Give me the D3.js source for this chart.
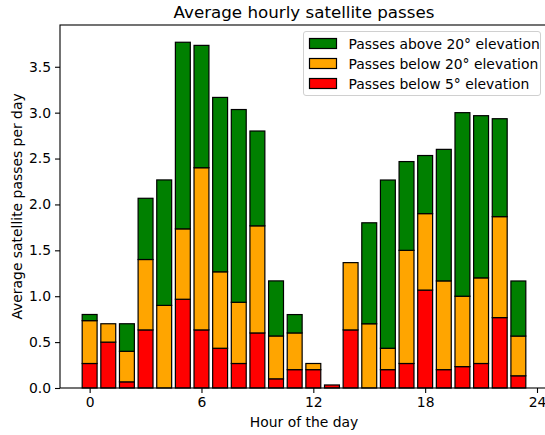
<!DOCTYPE html>
<html>
<head>
<meta charset="utf-8">
<script src="https://cdn.jsdelivr.net/npm/d3@7"></script>
<style>
  body { margin: 0; background: #fff; }
  svg { font-family: "DejaVu Sans", sans-serif; }
</style>
</head>
<body>
<svg width="545" height="435"></svg>
<script>
// Average passes per day, by hour and elevation band
var hours = d3.range(24);
var below5 = [0.267, 0.5, 0.067, 0.633, 0, 0.967, 0.633, 0.433, 0.267, 0.6, 0.1, 0.2,
              0.2, 0.033, 0.633, 0, 0.2, 0.267, 1.067, 0.2, 0.233, 0.267, 0.767, 0.133];
var below20 = [0.467, 0.2, 0.333, 0.767, 0.9, 0.767, 1.767, 0.833, 0.667, 1.167, 0.467, 0.4,
               0.067, 0, 0.733, 0.7, 0.233, 1.233, 0.833, 0.967, 0.767, 0.933, 1.1, 0.433];
var above20 = [0.067, 0, 0.3, 0.667, 1.367, 2.033, 1.333, 1.9, 2.1, 1.033, 0.6, 0.2,
               0, 0, 0, 1.1, 1.833, 0.967, 0.633, 1.433, 2.0, 1.767, 1.067, 0.6];
var xTicks = [0, 6, 12, 18, 24];
var yTicks = [0, 0.5, 1, 1.5, 2, 2.5, 3, 3.5];

var bands = [
  {key: "below5", label: "Passes below 5\u00b0 elevation", color: "red"},
  {key: "below20", label: "Passes below 20\u00b0 elevation", color: "orange"},
  {key: "above20", label: "Passes above 20\u00b0 elevation", color: "green"}
];

var rows = hours.map(function(h, i) {
  return {hour: h, below5: below5[i], below20: below20[i], above20: above20[i]};
});

var svg = d3.select("svg");
// note: "top" is taken by window.top, so plot edges get their own names
var plotL = 60, plotR = 548, plotT = 25, plotB = 388;

var x = d3.scaleLinear().domain([-1.59, 24.59]).range([plotL, plotR]);
var y = d3.scaleLinear().domain([0, 3.955]).range([plotB, plotT]);
var barW = 0.8;

var stack = d3.stack().keys(bands.map(function(b) { return b.key; }));
var layers = stack(rows);

var g = svg.append("g");
layers.forEach(function(layer, li) {
  g.selectAll(null).data(layer.filter(function(d) { return d[1] - d[0] > 0; }))
    .enter().append("rect")
    .attr("x", function(d) { return x(d.data.hour - barW / 2); })
    .attr("width", x(barW) - x(0))
    .attr("y", function(d) { return y(d[1]); })
    .attr("height", function(d) { return y(d[0]) - y(d[1]); })
    .attr("fill", bands[li].color)
    .attr("stroke", "black")
    .attr("stroke-width", 1.2);
});

// axes
var xAxis = d3.axisBottom(x).tickValues(xTicks).tickSize(5).tickPadding(4).tickFormat(d3.format("d"));
var yAxis = d3.axisLeft(y).tickValues(yTicks).tickSize(5).tickPadding(4).tickFormat(d3.format(".1f"));

svg.append("g").attr("transform", "translate(0," + plotB + ")").call(xAxis)
  .call(function(a) { a.select(".domain").remove(); });
svg.append("g").attr("transform", "translate(" + plotL + ",0)").call(yAxis)
  .call(function(a) { a.select(".domain").remove(); });
svg.selectAll(".tick text").attr("font-size", 13.9).attr("fill", "#000")
  .attr("font-family", "DejaVu Sans");
svg.selectAll(".tick line").attr("stroke", "#000").attr("stroke-width", 1.1);

// frame
svg.append("rect")
  .attr("x", plotL).attr("y", plotT)
  .attr("width", plotR - plotL).attr("height", plotB - plotT)
  .attr("fill", "none").attr("stroke", "#000").attr("stroke-width", 1.1);

// title and labels
svg.append("text").attr("x", (plotL + plotR) / 2).attr("y", 18)
  .attr("text-anchor", "middle").attr("font-size", 16.7)
  .text("Average hourly satellite passes");
svg.append("text").attr("x", (plotL + plotR) / 2).attr("y", 427)
  .attr("text-anchor", "middle").attr("font-size", 13.9)
  .text("Hour of the day");
svg.append("text")
  .attr("transform", "translate(22," + (plotT + plotB) / 2 + ") rotate(-90)")
  .attr("text-anchor", "middle").attr("font-size", 13.9)
  .text("Average satellite passes per day");

// legend
var legend = svg.append("g").attr("transform", "translate(303.5,31.5)");
legend.append("rect").attr("width", 237).attr("height", 64).attr("rx", 2.5)
  .attr("fill", "white").attr("fill-opacity", 0.8)
  .attr("stroke", "#d0d0d0").attr("stroke-width", 1);
var items = legend.selectAll(".item").data(bands.slice().reverse()).enter().append("g")
  .attr("transform", function(d, i) { return "translate(0," + (12 + i * 20) + ")"; });
items.append("rect").attr("x", 6).attr("y", -5).attr("width", 27).attr("height", 10)
  .attr("fill", function(d) { return d.color; })
  .attr("stroke", "black").attr("stroke-width", 1.2);
items.append("text").attr("x", 45).attr("y", 5).attr("font-size", 13.9)
  .text(function(d) { return d.label; });
</script>
</body>
</html>
